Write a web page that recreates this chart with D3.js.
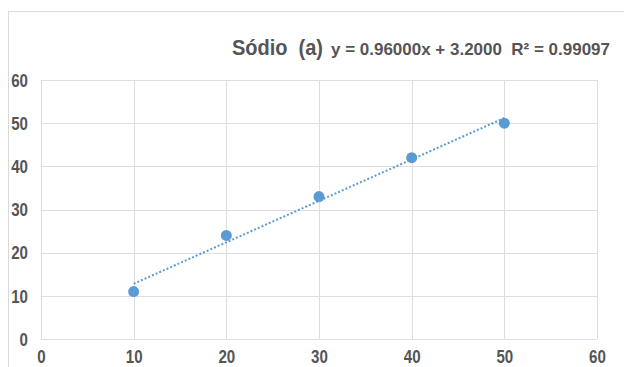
<!DOCTYPE html>
<html>
<head>
<meta charset="utf-8">
<title>Sódio (a)</title>
<script src="https://d3js.org/d3.v7.min.js"></script>
<style>
  * { margin: 0; padding: 0; }
  body { background: #fff; }
  svg { display: block; }
  text { white-space: pre; }
</style>
</head>
<body>
<div id="chart"></div>
<script>
// data
const xValues = [10, 20, 30, 40, 50];
const yValues = [11, 24, 33, 42, 50];
const xTicks = [0, 10, 20, 30, 40, 50, 60];
const yTicks = [0, 10, 20, 30, 40, 50, 60];
const titleText = "Sódio  (a)";
const equationText = "y = 0.96000x + 3.2000  R² = 0.99097";

const width = 624, height = 367;
const margin = { top: 80, right: 27, bottom: 28, left: 41 };
const font = "'Liberation Sans', Arial, sans-serif";
const textColor = "#555";
const blue = "#5b9bd5";

const svg = d3.select("#chart").append("svg")
  .attr("width", width)
  .attr("height", height);

// outer chart border
svg.append("rect")
  .attr("x", 8.5).attr("y", 11.5)
  .attr("width", width - 8).attr("height", height)
  .attr("fill", "#fff")
  .attr("stroke", "#d9d9d9");

const x = d3.scaleLinear().domain([0, 60]).range([margin.left, width - margin.right]);
const y = d3.scaleLinear().domain([0, 60]).range([height - margin.bottom, margin.top]);

// gridlines
svg.append("g")
  .selectAll("line")
  .data(yTicks)
  .join("line")
  .attr("x1", x(0)).attr("x2", x(60))
  .attr("y1", d => Math.round(y(d)) + 0.5).attr("y2", d => Math.round(y(d)) + 0.5)
  .attr("stroke", "#dedede");

svg.append("g")
  .selectAll("line")
  .data(xTicks)
  .join("line")
  .attr("y1", y(0)).attr("y2", y(60))
  .attr("x1", d => Math.round(x(d)) + 0.5).attr("x2", d => Math.round(x(d)) + 0.5)
  .attr("stroke", "#dedede");

// axes (labels only)
const xAxis = svg.append("g")
  .attr("transform", `translate(0,${y(0)})`)
  .call(d3.axisBottom(x).tickValues(xTicks).tickSize(0).tickPadding(10));
const yAxis = svg.append("g")
  .attr("transform", `translate(${x(0)},0)`)
  .call(d3.axisLeft(y).tickValues(yTicks).tickSize(0).tickPadding(13));

// narrow look: squeeze the glyphs horizontally
[xAxis, yAxis].forEach(a => {
  a.select(".domain").remove();
  a.selectAll("text")
    .attr("font-family", font)
    .attr("font-size", 18)
    .attr("font-weight", "bold")
    .attr("fill", textColor)
    .attr("textLength", function() { return this.textContent.length * 8.4; })
    .attr("lengthAdjust", "spacingAndGlyphs");
});
xAxis.selectAll("text").attr("dy", "0.78em");
yAxis.selectAll("text").attr("dy", "0.35em");

// linear trendline from least squares
const mx = d3.mean(xValues), my = d3.mean(yValues);
const slope = d3.sum(xValues, (v, i) => (v - mx) * (yValues[i] - my)) /
              d3.sum(xValues, v => (v - mx) ** 2);
const intercept = my - slope * mx;
const x0 = d3.min(xValues), x1 = d3.max(xValues);

svg.append("line")
  .attr("x1", x(x0)).attr("y1", y(slope * x0 + intercept))
  .attr("x2", x(x1)).attr("y2", y(slope * x1 + intercept))
  .attr("stroke", blue)
  .attr("stroke-width", 2)
  .attr("stroke-dasharray", "2,2");

// points
svg.append("g")
  .selectAll("circle")
  .data(xValues)
  .join("circle")
  .attr("cx", d => x(d))
  .attr("cy", (d, i) => y(yValues[i]))
  .attr("r", 5.5)
  .attr("fill", blue);

// title + equation
svg.append("text")
  .attr("x", 232).attr("y", 55)
  .attr("font-family", font)
  .attr("font-size", 22)
  .attr("font-weight", "bold")
  .attr("fill", textColor)
  .attr("textLength", 91)
  .attr("lengthAdjust", "spacingAndGlyphs")
  .text(titleText);

svg.append("text")
  .attr("x", 331).attr("y", 55)
  .attr("font-family", font)
  .attr("font-size", 17)
  .attr("font-weight", "bold")
  .attr("fill", textColor)
  .attr("textLength", 279)
  .attr("lengthAdjust", "spacingAndGlyphs")
  .text(equationText);
</script>
</body>
</html>
